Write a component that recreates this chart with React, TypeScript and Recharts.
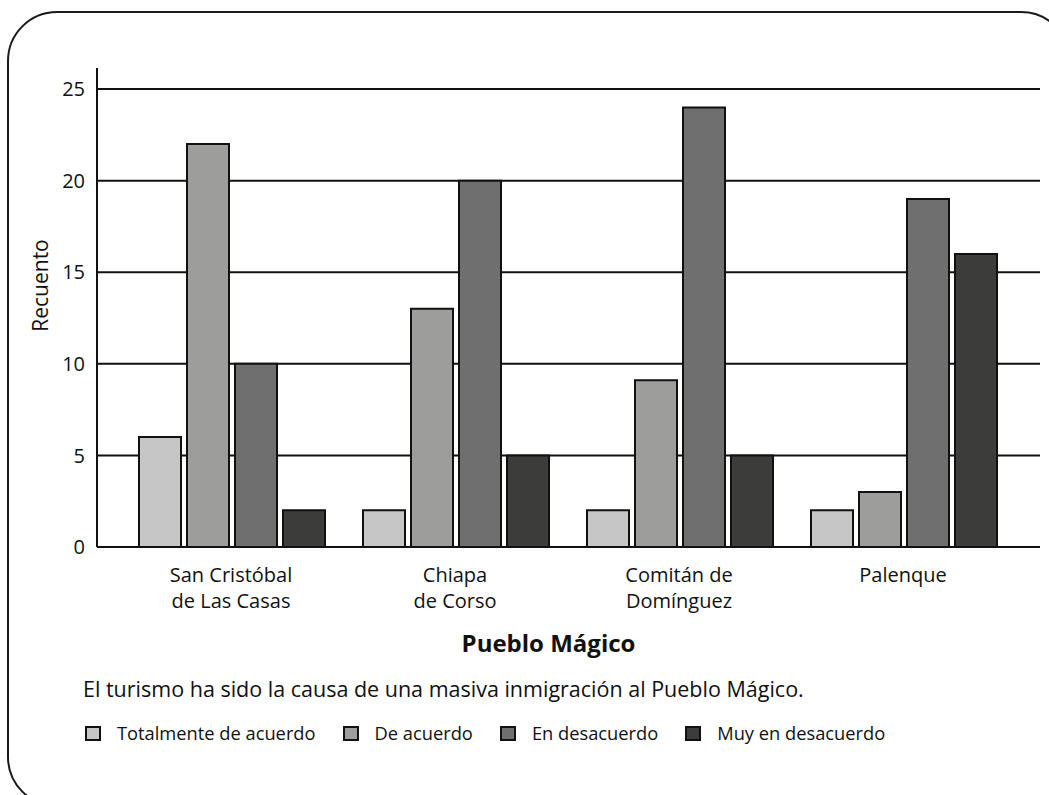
import { BarChart, Bar, XAxis, YAxis, CartesianGrid } from 'recharts';

const pueblos = ['San Cristóbal\nde Las Casas', 'Chiapa\nde Corso', 'Comitán de\nDomínguez', 'Palenque'];
const totalmente = [6, 2, 2, 2];
const deAcuerdo = [22, 13, 9.1, 3];
const enDesacuerdo = [10, 20, 24, 19];
const muyEnDesacuerdo = [2, 5, 5, 16];
const yTicks = [0, 5, 10, 15, 20, 25];

const seriesNames = ['Totalmente de acuerdo', 'De acuerdo', 'En desacuerdo', 'Muy en desacuerdo'];
const seriesColors = ['#c6c6c6', '#9d9d9b', '#6f6f6f', '#3c3c3a'];
const seriesKeys = ['totalmente', 'deAcuerdo', 'enDesacuerdo', 'muyEnDesacuerdo'];

const data = pueblos.map((p, i) => ({
  pueblo: p,
  totalmente: totalmente[i],
  deAcuerdo: deAcuerdo[i],
  enDesacuerdo: enDesacuerdo[i],
  muyEnDesacuerdo: muyEnDesacuerdo[i],
}));

const FONT = '"Open Sans", sans-serif';

function PuebloTick({ x, y, payload }: any) {
  const lines = String(payload.value).split('\n');
  return (
    <g>
      {lines.map((l, i) => (
        <text
          key={i}
          x={x}
          y={y + 27 + i * 26}
          textAnchor="middle"
          fontFamily={FONT}
          fontSize={20}
          fill="#111"
        >
          {l}
        </text>
      ))}
    </g>
  );
}

export default function App() {
  return (
    <div
      style={{
        position: 'absolute',
        left: 0,
        top: 0,
        width: 1049,
        height: 795,
        overflow: 'hidden',
        background: '#fff',
        fontFamily: FONT,
      }}
    >
      <div
        style={{
          position: 'absolute',
          left: 7,
          top: 11,
          width: 1060,
          height: 792,
          border: '2px solid #1a1a1a',
          borderRadius: 50,
        }}
      />
      <div style={{ position: 'absolute', left: 0, top: 0 }}>
        <BarChart
          width={1049}
          height={795}
          data={data}
          margin={{ top: 68, right: 9, left: 37, bottom: 138 }}
          barCategoryGap={20}
          barGap={6}
        >
          <CartesianGrid vertical={false} stroke="#111" strokeWidth={2} syncWithTicks />
          <XAxis
            dataKey="pueblo"
            height={110}
            padding={{ left: 22, right: 25 }}
            axisLine={{ stroke: '#111', strokeWidth: 2 }}
            tickLine={false}
            tick={<PuebloTick />}
            interval={0}
            label={{
              content: ({ viewBox }: any) => (
                <text
                  x={viewBox.x + viewBox.width / 2 - 20}
                  y={viewBox.y + 105}
                  textAnchor="middle"
                  fontFamily={FONT}
                  fontSize={24}
                  fontWeight={700}
                  fill="#111"
                >
                  Pueblo Mágico
                </text>
              ),
            }}
          />
          <YAxis
            width={60}
            domain={[0, 26.15]}
            ticks={yTicks}
            axisLine={{ stroke: '#111', strokeWidth: 2 }}
            tickLine={false}
            tickSize={0}
            tickMargin={12}
            tick={{ fontFamily: FONT, fontSize: 20, fill: '#111' }}
            label={{
              content: ({ viewBox }: any) => {
                const cx = 40;
                const cy = viewBox.y + viewBox.height / 2 - 22;
                return (
                  <text
                    x={cx}
                    y={cy}
                    transform={`rotate(-90 ${cx} ${cy})`}
                    textAnchor="middle"
                    dominantBaseline="central"
                    fontFamily={FONT}
                    fontSize={21}
                    fill="#111"
                  >
                    Recuento
                  </text>
                );
              },
            }}
          />
          {seriesKeys.map((k, i) => (
            <Bar
              key={k}
              dataKey={k}
              name={seriesNames[i]}
              fill={seriesColors[i]}
              stroke="#111"
              strokeWidth={2}
              isAnimationActive={false}
            />
          ))}
        </BarChart>
      </div>
      <div
        style={{
          position: 'absolute',
          left: 83,
          top: 674,
          fontSize: 21.5,
          lineHeight: '30px',
          color: '#111',
          whiteSpace: 'nowrap',
        }}
      >
        El turismo ha sido la causa de una masiva inmigración al Pueblo Mágico.
      </div>
      <div
        style={{
          position: 'absolute',
          left: 85,
          top: 720,
          display: 'flex',
          alignItems: 'center',
          gap: 27,
          fontSize: 18.3,
          lineHeight: '26px',
          color: '#111',
          whiteSpace: 'nowrap',
        }}
      >
        {seriesNames.map((n, i) => (
          <div key={n} style={{ display: 'flex', alignItems: 'center', gap: 16 }}>
            <span
              style={{
                display: 'inline-block',
                width: 12,
                height: 11,
                background: seriesColors[i],
                border: '2px solid #111',
              }}
            />
            <span>{n}</span>
          </div>
        ))}
      </div>
    </div>
  );
}
